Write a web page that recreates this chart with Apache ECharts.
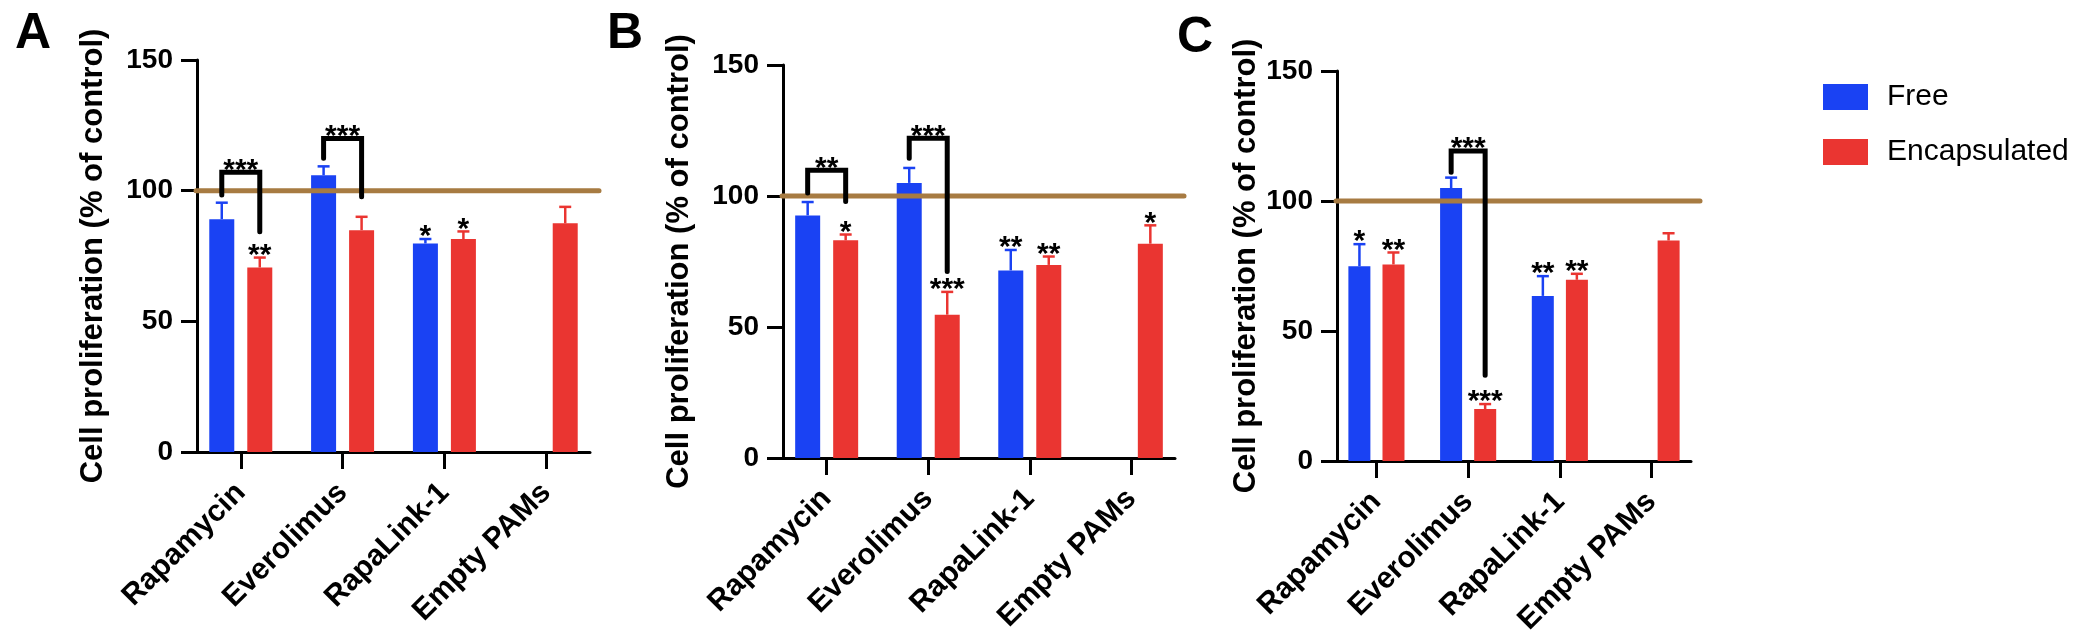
<!DOCTYPE html>
<html>
<head>
<meta charset="utf-8">
<script src="https://cdn.jsdelivr.net/npm/echarts@6/dist/echarts.min.js"></script>
<style>
html,body{margin:0;padding:0;background:#fff;}
#chart{width:2085px;height:640px;}
</style>
</head>
<body>
<div id="chart"></div>
<script>
// ---------- DATA ----------
const categories = ['Rapamycin', 'Everolimus', 'RapaLink-1', 'Empty PAMs'];
const categoryTicks = [0, 1, 2, 3];
const yTickValues = [0, 50, 100, 150];
const controlLevel = 100;
const seriesNames = ['Free', 'Encapsulated'];
const yAxisTitle = 'Cell proliferation (% of control)';

// Panel A
const A_free = [89.1, 105.9, 79.8, null];
const A_freeErr = [6.3, 3.4, 1.7, null];
const A_enc = [70.6, 84.9, 81.5, 87.5];
const A_encErr = [3.8, 5.1, 2.9, 6.3];
const A_freeSig = ['', '', '*', ''];
const A_encSig = ['**', '', '*', ''];
const A_bracketCat = [0, 1];
const A_bracketTop = [107, 120];
const A_bracketLeftEnd = [98.3, 112.4];
const A_bracketRightEnd = [84.3, 97.7];
const A_bracketText = ['***', '***'];

// Panel B
const B_free = [92.6, 105.0, 71.6, null];
const B_freeErr = [5.1, 5.7, 7.8, null];
const B_enc = [83.1, 54.7, 73.7, 81.8];
const B_encErr = [2.2, 8.7, 3.2, 7.0];
const B_freeSig = ['', '', '**', ''];
const B_encSig = ['*', '***', '**', '*'];
const B_bracketCat = [0, 1];
const B_bracketTop = [109.8, 122];
const B_bracketLeftEnd = [101.1, 114.4];
const B_bracketRightEnd = [97.9, 71.2];
const B_bracketText = ['**', '***'];

// Panel C
const C_free = [74.9, 105.0, 63.5, null];
const C_freeErr = [8.5, 4.0, 7.6, null];
const C_enc = [75.6, 20.0, 69.7, 84.8];
const C_encErr = [4.6, 1.9, 2.3, 2.8];
const C_freeSig = ['*', '', '**', ''];
const C_encSig = ['**', '***', '**', ''];
const C_bracketCat = [1];
const C_bracketTop = [119.2];
const C_bracketLeftEnd = [111.1];
const C_bracketRightEnd = [33];
const C_bracketText = ['***'];

// ---------- STYLE / LAYOUT ----------
const FONT = "'Liberation Sans', Arial, Helvetica, sans-serif";
const BLUE = '#1a42f3';
const RED = '#ea3531';
const BROWN = '#a77b42';
const X_MIN = -0.43, X_MAX = 3.43;   // axis padding around first/last category

const panels = [
  { letter: 'A', letterPos: [10, 4],
    free: A_free, freeErr: A_freeErr, enc: A_enc, encErr: A_encErr, freeSig: A_freeSig, encSig: A_encSig,
    bCat: A_bracketCat, bTop: A_bracketTop, bL: A_bracketLeftEnd, bR: A_bracketRightEnd, bText: A_bracketText,
    grid: { left: 197, top: 60, width: 393, height: 392 }, barWidth: 25, gapPx: 13, nameGap: 88 },
  { letter: 'B', letterPos: [602, 4],
    free: B_free, freeErr: B_freeErr, enc: B_enc, encErr: B_encErr, freeSig: B_freeSig, encSig: B_encSig,
    bCat: B_bracketCat, bTop: B_bracketTop, bL: B_bracketLeftEnd, bR: B_bracketRightEnd, bText: B_bracketText,
    grid: { left: 783, top: 65, width: 392, height: 393 }, barWidth: 25, gapPx: 13, nameGap: 88 },
  { letter: 'C', letterPos: [1172, 8],
    free: C_free, freeErr: C_freeErr, enc: C_enc, encErr: C_encErr, freeSig: C_freeSig, encSig: C_encSig,
    bCat: C_bracketCat, bTop: C_bracketTop, bL: C_bracketLeftEnd, bR: C_bracketRightEnd, bText: C_bracketText,
    grid: { left: 1337, top: 71, width: 354, height: 390 }, barWidth: 22, gapPx: 12, nameGap: 72 }
];

const grids = [], xAxes = [], yAxes = [], series = [], titles = [];

panels.forEach((p, k) => {
  const off = (p.barWidth + p.gapPx) / 2;
  grids.push(Object.assign({ containLabel: false, outerBoundsMode: 'none' }, p.grid));
  titles.push({ text: p.letter, left: p.letterPos[0], top: p.letterPos[1],
    textStyle: { fontSize: 50, fontWeight: 'bold', color: '#000', fontFamily: FONT } });
  xAxes.push({
    type: 'value', gridIndex: k, min: X_MIN, max: X_MAX,
    axisLine: { show: true, onZero: true, lineStyle: { color: '#000', width: 3 } },
    axisTick: { show: true, customValues: categoryTicks, length: 17, lineStyle: { color: '#000', width: 3 } },
    axisLabel: { customValues: categoryTicks, formatter: v => categories[Math.round(v)] || '',
      rotate: 45, margin: 36, color: '#000', fontSize: 30, fontWeight: 'bold', fontFamily: FONT },
    splitLine: { show: false }
  });
  yAxes.push({
    type: 'value', gridIndex: k, min: yTickValues[0], max: yTickValues[yTickValues.length - 1],
    interval: yTickValues[1] - yTickValues[0],
    name: yAxisTitle, nameLocation: 'middle', nameGap: p.nameGap,
    nameTextStyle: { fontSize: 31, fontWeight: 'bold', color: '#000', fontFamily: FONT },
    axisLine: { show: true, onZero: false, lineStyle: { color: '#000', width: 3 } },
    axisTick: { show: true, length: 16, lineStyle: { color: '#000', width: 3 } },
    axisLabel: { margin: 24, color: '#000', fontSize: 28, fontWeight: 'bold', fontFamily: FONT },
    splitLine: { show: false }
  });

  const toPairs = vals => vals.map((v, i) => [i, v]).filter(d => d[1] != null);
  const barCommon = { type: 'bar', xAxisIndex: k, yAxisIndex: k, barWidth: p.barWidth,
    barGap: Math.round(p.gapPx / p.barWidth * 100) + '%', z: 2 };
  series.push(Object.assign({ name: seriesNames[0], data: toPairs(p.free),
    itemStyle: { color: BLUE } }, barCommon));
  series.push(Object.assign({ name: seriesNames[1], data: toPairs(p.enc),
    itemStyle: { color: RED } }, barCommon));

  // error bars + significance marks
  [[p.free, p.freeErr, p.freeSig, -1, BLUE], [p.enc, p.encErr, p.encSig, 1, RED]].forEach(([vals, errs, sigs, side, col]) => {
    const data = [];
    vals.forEach((v, i) => { if (v != null) data.push([i, v, errs[i]]); });
    series.push({
      type: 'custom', xAxisIndex: k, yAxisIndex: k, z: 3, silent: true,
      data: data,
      renderItem: function (params, api) {
        const cat = api.value(0), m = api.value(1), e = api.value(2);
        const c0 = api.coord([cat, m]);
        const c1 = api.coord([cat, m + e]);
        const x = c0[0] + side * off;
        const children = [
          { type: 'line', shape: { x1: x, y1: c0[1], x2: x, y2: c1[1] }, style: { stroke: col, lineWidth: 2.5 } },
          { type: 'line', shape: { x1: x - 6, y1: c1[1], x2: x + 6, y2: c1[1] }, style: { stroke: col, lineWidth: 2.5 } }
        ];
        const s = sigs[cat];
        if (s) children.push({ type: 'text', x: x, y: c1[1] - 2,
          style: { text: s, fill: '#000', font: 'bold 30px ' + FONT, align: 'center', verticalAlign: 'middle' } });
        return { type: 'group', children: children };
      }
    });
  });

  // control line at 100 %
  series.push({
    type: 'custom', xAxisIndex: k, yAxisIndex: k, z: 4, silent: true,
    data: [[0, controlLevel]],
    renderItem: function (params, api) {
      const cs = params.coordSys;
      const y = api.coord([0, api.value(1)])[1];
      return { type: 'line', shape: { x1: cs.x - 1, y1: y, x2: cs.x + cs.width + 9, y2: y },
        style: { stroke: BROWN, lineWidth: 5, lineCap: 'round' } };
    }
  });

  // comparison brackets
  series.push({
    type: 'custom', xAxisIndex: k, yAxisIndex: k, z: 5, silent: true,
    data: p.bCat.map((c, i) => [c, p.bTop[i], p.bL[i], p.bR[i]]),
    renderItem: function (params, api) {
      const cat = api.value(0);
      const top = api.coord([cat, api.value(1)]);
      const l = api.coord([cat, api.value(2)]);
      const r = api.coord([cat, api.value(3)]);
      const xl = top[0] - off, xr = top[0] + off;
      return { type: 'group', children: [
        { type: 'polyline', shape: { points: [[xl, l[1]], [xl, top[1]], [xr, top[1]], [xr, r[1]]] },
          style: { stroke: '#000', lineWidth: 5, fill: null, lineCap: 'round', lineJoin: 'miter' } },
        { type: 'text', x: top[0], y: top[1] - 2,
          style: { text: p.bText[params.dataIndex], fill: '#000', font: 'bold 30px ' + FONT, align: 'center', verticalAlign: 'middle' } }
      ] };
    }
  });
});

const chart = echarts.init(document.getElementById('chart'), null, { renderer: 'canvas' });
chart.setOption({
  backgroundColor: '#fff',
  animation: false,
  title: titles,
  legend: {
    data: seriesNames, orient: 'vertical', left: 1818, top: 77,
    itemWidth: 45, itemHeight: 26, itemGap: 25, icon: 'rect',
    textStyle: { fontSize: 30, color: '#000', fontFamily: FONT, padding: [0, 0, 0, 14] }
  },
  grid: grids,
  xAxis: xAxes,
  yAxis: yAxes,
  series: series
});
</script>
</body>
</html>
